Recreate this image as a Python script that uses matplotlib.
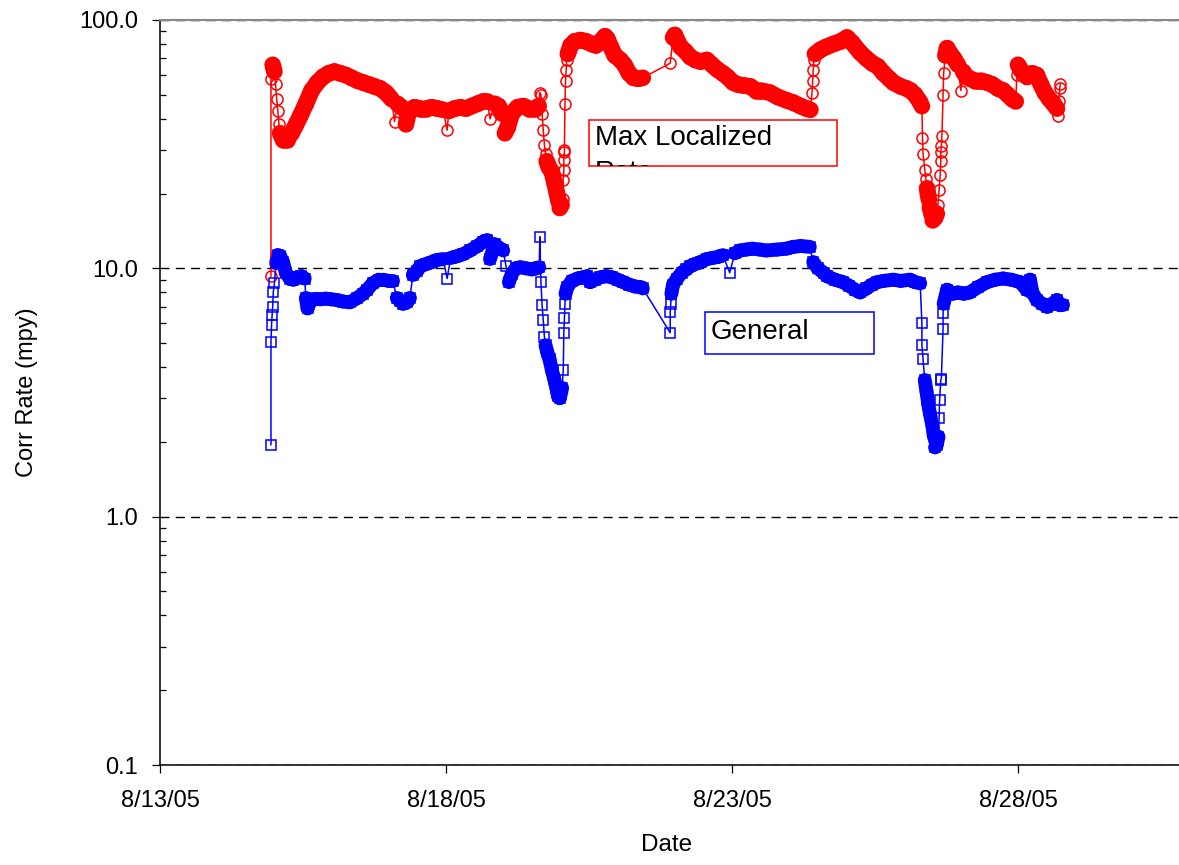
import datetime as dt
import numpy as np
import matplotlib
matplotlib.use('Agg')
import matplotlib.pyplot as plt
import matplotlib.dates as mdates
from matplotlib.collections import LineCollection
from matplotlib.patches import Rectangle
from matplotlib.ticker import LogLocator, FormatStrFormatter, NullFormatter

plt.rcParams['font.family'] = ['Liberation Sans', 'DejaVu Sans']

start = dt.datetime(2005, 8, 13)

# days after 8/13/05 and rate (mpy)
red_day = [1.94, 1.94, 1.95, 1.97, 2.00, 2.02, 2.04, 2.06, 2.08, 2.10,
           2.15, 2.22, 2.30, 2.38, 2.45, 2.55, 2.65, 2.75, 2.85, 2.95,
           3.05, 3.15, 3.25, 3.35, 3.45, 3.55, 3.65, 3.75, 3.85, 3.95,
           4.05, 4.10, 4.15, 4.25, 4.30, 4.35, 4.45, 4.55, 4.65, 4.75,
           4.85, 4.95, 5.02, 5.05, 5.15, 5.25, 5.35, 5.45, 5.55, 5.65,
           5.72, 5.77, 5.85, 5.92, 5.98, 6.03, 6.08, 6.15, 6.25, 6.35,
           6.45, 6.55, 6.62, 6.64, 6.66, 6.68, 6.70, 6.72, 6.74, 6.76,
           6.80, 6.85, 6.90, 6.94, 6.97, 6.99, 7.02, 7.04, 7.05, 7.06,
           7.06, 7.07, 7.07, 7.08, 7.09, 7.10, 7.11, 7.13, 7.18, 7.25,
           7.35, 7.45, 7.55, 7.62, 7.70, 7.78, 7.82, 7.88, 7.95, 8.05,
           8.12, 8.20, 8.28, 8.36, 8.44, 8.92, 8.97, 9.00, 9.05, 9.10,
           9.18, 9.27, 9.36, 9.45, 9.56, 9.65, 9.75, 9.84, 9.92, 10.02,
           10.10, 10.20, 10.32, 10.42, 10.50, 10.66, 10.80, 10.95, 11.07, 11.20,
           11.30, 11.37, 11.40, 11.41, 11.42, 11.43, 11.45, 11.55, 11.65, 11.77,
           11.90, 12.01, 12.10, 12.24, 12.35, 12.45, 12.55, 12.65, 12.75, 12.82,
           12.95, 13.05, 13.12, 13.20, 13.28, 13.32, 13.33, 13.34, 13.37, 13.39,
           13.41, 13.44, 13.46, 13.49, 13.51, 13.55, 13.58, 13.60, 13.62, 13.64,
           13.65, 13.65, 13.66, 13.67, 13.69, 13.70, 13.73, 13.76, 13.82, 13.88,
           13.95, 14.00, 14.04, 14.10, 14.16, 14.25, 14.35, 14.46, 14.55, 14.65,
           14.74, 14.82, 14.90, 14.96, 14.98, 15.00, 15.05, 15.12, 15.16, 15.25,
           15.33, 15.40, 15.47, 15.55, 15.62, 15.68, 15.70, 15.72, 15.73, 15.74]
red_val = [9.3, 58, 64, 66, 62, 55, 48, 43, 38, 35,
           33, 33, 35, 38, 41, 46, 52, 56, 59, 61,
           62, 61, 60, 58.5, 57, 56, 55, 54, 53, 51,
           48, 39, 46, 44, 38, 43, 44.5, 44, 44, 44.5,
           44, 43.5, 36, 43, 44, 44.5, 44, 45, 46, 47,
           47, 40, 46, 45, 42, 35, 37, 42, 44.5, 45,
           44, 44, 45, 51, 50, 42, 36, 31.5, 29, 27,
           25.5, 24.5, 22, 20, 18.5, 17.5, 18, 19, 22.7, 25,
           27.3, 29.5, 30, 46, 57, 63, 69, 73, 79, 82,
           83, 82, 80, 79, 82, 86, 84, 78, 72, 69,
           66, 61, 58.5, 58, 58.5, 67, 85, 87, 82, 78,
           75, 71, 69, 68, 69, 66, 63, 61, 59, 56,
           55, 54.5, 54, 52, 52, 51, 49, 47.5, 46.5, 45,
           44, 43.5, 51, 57, 63, 69, 73, 76, 78, 80,
           82, 85, 81, 74, 70, 67, 65, 61, 58, 56,
           54, 53, 52, 50, 47, 45, 33.5, 29, 25, 23,
           21, 19, 17.6, 16.5, 15.6, 16, 16.6, 18, 20.7, 23.7,
           27, 29.4, 31, 34, 50, 61, 72, 77, 73, 70,
           66, 52, 62, 59, 58, 57, 57, 56, 55, 53,
           52, 50, 48, 47, 60, 66, 63, 60, 59, 61,
           60, 55, 51, 48, 46, 44, 41, 47, 53, 55.5]

blue_day = [1.94, 1.94, 1.95, 1.96, 1.97, 1.98, 2.00, 2.03, 2.06, 2.10,
            2.15, 2.20, 2.27, 2.33, 2.40, 2.47, 2.53, 2.55, 2.58, 2.63,
            2.70, 2.80, 2.90, 3.00, 3.10, 3.20, 3.32, 3.45, 3.55, 3.62,
            3.72, 3.82, 3.90, 4.00, 4.07, 4.14, 4.20, 4.25, 4.32, 4.37,
            4.42, 4.50, 4.55, 4.65, 4.75, 4.84, 4.95, 5.02, 5.08, 5.20,
            5.30, 5.42, 5.55, 5.65, 5.72, 5.77, 5.85, 5.95, 6.00, 6.05,
            6.10, 6.15, 6.22, 6.30, 6.40, 6.50, 6.58, 6.63, 6.64, 6.66,
            6.68, 6.70, 6.72, 6.74, 6.77, 6.81, 6.85, 6.89, 6.93, 6.96,
            6.99, 7.03, 7.05, 7.06, 7.07, 7.08, 7.09, 7.12, 7.20, 7.30,
            7.40, 7.47, 7.52, 7.60, 7.70, 7.80, 7.90, 8.00, 8.10, 8.20,
            8.30, 8.40, 8.44, 8.92, 8.92, 8.93, 8.94, 8.97, 9.04, 9.12,
            9.20, 9.27, 9.35, 9.45, 9.56, 9.65, 9.75, 9.84, 9.96, 10.05,
            10.14, 10.25, 10.35, 10.49, 10.60, 10.79, 10.95, 11.07, 11.20, 11.36,
            11.42, 11.50, 11.60, 11.66, 11.80, 11.94, 12.05, 12.15, 12.24, 12.35,
            12.45, 12.54, 12.65, 12.82, 12.95, 13.11, 13.20, 13.29, 13.32, 13.32,
            13.34, 13.37, 13.40, 13.43, 13.46, 13.50, 13.53, 13.55, 13.58, 13.61,
            13.62, 13.63, 13.65, 13.66, 13.69, 13.69, 13.70, 13.76, 13.86, 13.95,
            14.05, 14.16, 14.30, 14.46, 14.60, 14.74, 14.88, 15.04, 15.15, 15.21,
            15.25, 15.33, 15.42, 15.51, 15.60, 15.68, 15.73, 15.79]
blue_val = [1.95, 5.05, 5.9, 6.5, 7.0, 8.0, 8.7, 10.5, 11.3, 11.2,
            10.6, 9.6, 9.1, 9.0, 9.2, 9.3, 9.1, 7.6, 6.9, 7.4,
            7.5, 7.5, 7.55, 7.5, 7.45, 7.35, 7.3, 7.6, 7.9, 8.2,
            8.7, 9.0, 9.0, 8.9, 8.9, 7.6, 7.4, 7.2, 7.3, 7.6,
            9.4, 9.8, 10.2, 10.4, 10.6, 10.8, 10.9, 9.1, 11.0, 11.2,
            11.4, 11.8, 12.3, 12.8, 13.0, 10.9, 12.5, 12.0, 11.8, 10.2,
            8.8, 9.5, 10.0, 10.1, 10.0, 9.9, 10.0, 10.1, 13.4, 8.8,
            7.1, 6.2, 5.3, 4.9, 4.6, 4.3, 3.9, 3.6, 3.3, 3.05,
            3.0, 3.3, 3.9, 5.5, 6.3, 7.2, 7.9, 8.4, 8.9, 9.1,
            9.2, 9.3, 8.8, 9.0, 9.2, 9.3, 9.2, 9.0, 8.8, 8.6,
            8.45, 8.4, 8.3, 5.5, 6.65, 7.2, 7.9, 8.6, 9.1, 9.6,
            9.9, 10.2, 10.4, 10.6, 10.9, 11.0, 11.1, 11.3, 9.6, 11.5,
            11.8, 11.9, 12.0, 11.9, 11.8, 11.9, 12.0, 12.2, 12.3, 12.2,
            10.6, 10.0, 9.6, 9.3, 9.0, 8.8, 8.5, 8.2, 8.0, 8.3,
            8.6, 8.8, 8.9, 9.0, 8.9, 9.0, 8.8, 8.7, 6.0, 4.9,
            4.3, 3.55, 3.2, 2.85, 2.6, 2.35, 2.1, 1.9, 1.95, 2.1,
            2.5, 2.95, 3.55, 3.6, 5.7, 6.6, 7.2, 8.2, 7.9, 8.0,
            7.9, 8.0, 8.4, 8.8, 9.0, 9.1, 9.0, 8.8, 8.2, 9.0,
            8.0, 7.45, 7.2, 7.0, 7.2, 7.45, 7.1, 7.1]

t0 = mdates.date2num(start)


def dense_band(ax, days, vals, color, width):
    # the logger points are so close together that the markers merge into a band
    x = t0 + np.array(days)
    y = np.array(vals)
    ly = np.log10(y)
    segs = []
    for i in range(len(x) - 1):
        dx = x[i + 1] - x[i]
        if abs(ly[i + 1] - ly[i]) < 0.06 and 0.025 <= dx < 0.2:
            segs.append([(x[i], y[i]), (x[i + 1], y[i + 1])])
    lc = LineCollection(segs, colors=color, linewidths=width,
                        capstyle='round', joinstyle='round', zorder=2)
    ax.add_collection(lc)


fig = plt.figure(figsize=(11.79, 8.65), dpi=100)
ax = fig.add_axes([160 / 1179, 100 / 865, 1029.6 / 1179, 745 / 865])

dense_band(ax, red_day, red_val, 'red', 12)
dense_band(ax, blue_day, blue_val, 'blue', 10)
ax.plot(t0 + np.array(red_day), red_val, color='red', lw=1.1, marker='o',
        ms=8, mfc='none', mec='red', mew=1.1, zorder=3)
ax.plot(t0 + np.array(blue_day), blue_val, color='blue', lw=1.1, marker='s',
        ms=6.5, mfc='none', mec='blue', mew=1.1, zorder=3)

ax.set_yscale('log')
ax.set_ylim(0.1, 100)
ax.set_xlim(t0, t0 + 18)

ax.yaxis.set_major_locator(LogLocator(base=10))
ax.yaxis.set_minor_locator(LogLocator(base=10, subs=np.arange(2, 10)))
ax.yaxis.set_major_formatter(FormatStrFormatter('%.1f'))
ax.yaxis.set_minor_formatter(NullFormatter())
ax.xaxis.set_major_locator(mdates.DayLocator(bymonthday=[13, 18, 23, 28]))
ax.xaxis.set_major_formatter(mdates.DateFormatter('%-m/%d/%y'))

ax.tick_params(axis='both', which='major', direction='out', length=5.8,
               width=0.9, labelsize=17, color='black')
ax.tick_params(axis='y', which='major', pad=10)
ax.tick_params(axis='x', which='major', pad=12)
ax.tick_params(axis='y', which='minor', direction='in', length=4.6, width=0.9)

ax.yaxis.grid(True, which='major', color='black', lw=1.0,
              linestyle=(0, (6.5, 4.5)))
ax.set_axisbelow(True)

for s in ['left', 'bottom']:
    ax.spines[s].set_color('black')
    ax.spines[s].set_linewidth(1.1)
ax.spines['top'].set_color('#888888')
ax.spines['top'].set_linewidth(1.5)
ax.spines['right'].set_visible(False)

ax.set_xlabel('Date', fontsize=17.5)
ax.set_ylabel('Corr Rate (mpy)', fontsize=17)
ax.xaxis.set_label_coords(507 / 1029.6, -0.092)
ax.yaxis.set_label_coords(-0.1185, 0.5)

# series labels in boxes, text clipped by the box like the original
box1 = Rectangle((589 / 1179, 1 - 166 / 865), 248 / 1179, 46 / 865,
                 transform=fig.transFigure, facecolor='white',
                 edgecolor='red', lw=1.1, zorder=5)
fig.add_artist(box1)
t1 = fig.text(595 / 1179, 1 - 124.8 / 865, 'Max Localized\nRate', fontsize=20,
              ha='left', va='top', linespacing=1.45, zorder=6)
t1.set_clip_path(box1)

box2 = Rectangle((705 / 1179, 1 - 354 / 865), 169 / 1179, 42 / 865,
                 transform=fig.transFigure, facecolor='white',
                 edgecolor='blue', lw=1.1, zorder=5)
fig.add_artist(box2)
t2 = fig.text(711 / 1179, 1 - 318.8 / 865, 'General', fontsize=20,
              ha='left', va='top', zorder=6)
t2.set_clip_path(box2)

fig.savefig('out.png', dpi=100)
